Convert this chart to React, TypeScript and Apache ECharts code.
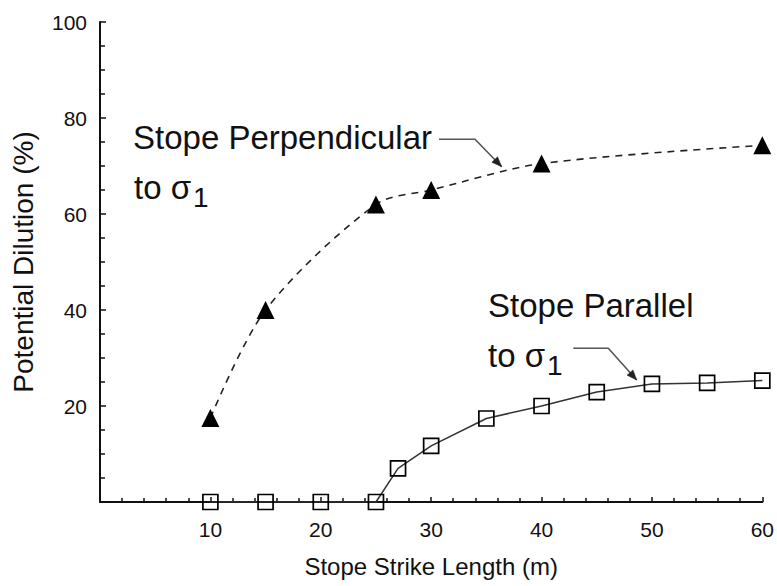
import React, { useEffect, useRef } from "react";
import * as echarts from "echarts";

// Stope oriented perpendicular to sigma 1 (filled triangles, dashed curve)
const perpStrikeLength = [10, 15, 25, 30, 40, 60];
const perpDilution = [17.5, 40, 62, 65, 70.5, 74.3];

// Stope oriented parallel to sigma 1 (open squares, solid line)
const parStrikeLength = [10, 15, 20, 25, 27, 30, 35, 40, 45, 50, 55, 60];
const parDilution = [0, 0, 0, 0, 7, 11.7, 17.4, 20, 22.9, 24.6, 24.8, 25.3];

const xAxisTitle = "Stope Strike Length (m)";
const yAxisTitle = "Potential Dilution (%)";

const SANS = "'Liberation Sans', Arial, Helvetica, sans-serif";
const INK = "#111";

type Pt = [number, number];

// Filled arrow head pointing from `from` to `tip`
function arrowHead(from: Pt, tip: Pt, len = 10, half = 4): Pt[] {
  const dx = tip[0] - from[0];
  const dy = tip[1] - from[1];
  const d = Math.hypot(dx, dy);
  const ux = dx / d;
  const uy = dy / d;
  const bx = tip[0] - ux * len;
  const by = tip[1] - uy * len;
  return [
    tip,
    [bx - uy * half, by + ux * half],
    [bx + uy * half, by - ux * half],
  ];
}

function leader(points: Pt[]) {
  const n = points.length;
  const head = arrowHead(points[n - 2], points[n - 1]);
  return [
    {
      type: "polyline",
      shape: { points },
      style: { stroke: "#555", lineWidth: 1.6, fill: null },
      z: 10,
    },
    {
      type: "polygon",
      shape: { points: head },
      style: { fill: "#222", stroke: "#222", lineWidth: 0.5 },
      z: 10,
    },
  ];
}

function label(text: string, x: number, y: number) {
  return {
    type: "text",
    x,
    y,
    z: 10,
    style: {
      text,
      fontSize: 33,
      fontFamily: SANS,
      fill: INK,
      align: "left",
      verticalAlign: "middle",
    },
  };
}

// "to σ1" with the 1 set as a subscript; y is the centre of "to σ"
function sigmaLabel(x: number, y: number) {
  return {
    type: "text",
    x,
    y: y + 3.75,
    z: 10,
    style: {
      text: "{a|to σ}{s|1}",
      align: "left",
      verticalAlign: "middle",
      rich: {
        a: { fontSize: 33, lineHeight: 33, fontFamily: SANS, fill: INK, verticalAlign: "top" },
        s: {
          fontSize: 28,
          lineHeight: 28,
          fontFamily: SANS,
          fill: INK,
          verticalAlign: "top",
          padding: [12.5, 0, 0, 2],
        },
      },
    },
  };
}

export default function App() {
  const ref = useRef<HTMLDivElement>(null);

  useEffect(() => {
    if (!ref.current) return;
    const chart = echarts.init(ref.current, null, { renderer: "svg" });

    const tickStyle = { color: INK, width: 1.5 };

    chart.setOption({
      animation: false,
      backgroundColor: "#fff",
      grid: { left: 100, right: 14, top: 22, bottom: 84 },
      xAxis: {
        type: "value",
        min: 0,
        max: 60,
        interval: 10,
        name: xAxisTitle,
        nameLocation: "middle",
        nameGap: 52,
        nameTextStyle: { fontFamily: SANS, fontSize: 24, color: INK },
        axisLine: { show: true, onZero: false, lineStyle: { color: INK, width: 2 } },
        axisTick: { show: true, inside: true, length: 5, lineStyle: tickStyle },
        minorTick: { show: true, splitNumber: 5, length: 4, lineStyle: tickStyle },
        axisLabel: {
          showMinLabel: false,
          margin: 17,
          fontFamily: SANS,
          fontSize: 21,
          color: INK,
        },
        splitLine: { show: false },
        minorSplitLine: { show: false },
      },
      yAxis: {
        type: "value",
        min: 0,
        max: 100,
        interval: 20,
        name: yAxisTitle,
        nameLocation: "middle",
        nameGap: 63,
        nameTextStyle: { fontFamily: SANS, fontSize: 28, color: INK },
        axisLine: { show: true, onZero: false, lineStyle: { color: INK, width: 2 } },
        axisTick: { show: true, inside: true, length: 6, lineStyle: tickStyle },
        minorTick: { show: true, splitNumber: 4, length: 5, lineStyle: tickStyle },
        axisLabel: {
          showMinLabel: false,
          margin: 13,
          fontFamily: SANS,
          fontSize: 21,
          color: INK,
        },
        splitLine: { show: false },
        minorSplitLine: { show: false },
      },
      series: [
        {
          name: "Stope Perpendicular to σ1",
          type: "line",
          data: perpStrikeLength.map((x, i) => [x, perpDilution[i]]),
          symbol: "triangle",
          symbolSize: 18,
          smooth: 0.3,
          lineStyle: { color: "#222", width: 1.6, type: [7, 6] },
          itemStyle: { color: "#000" },
          z: 3,
        },
        {
          name: "Stope Parallel to σ1",
          type: "line",
          data: parStrikeLength.map((x, i) => [x, parDilution[i]]),
          symbol: "rect",
          symbolSize: 15,
          lineStyle: { color: "#333", width: 1.5 },
          itemStyle: { color: "rgba(0,0,0,0)", borderColor: "#000", borderWidth: 1.7 },
          z: 3,
        },
      ],
      graphic: [
        label("Stope Perpendicular", 133, 137),
        sigmaLabel(134, 183.6),
        label("Stope Parallel", 488, 305.3),
        sigmaLabel(488, 352),
        ...leader([
          [439, 139.3],
          [475, 139.3],
          [501.7, 166.7],
        ]),
        ...leader([
          [573.3, 348.3],
          [608.3, 348.3],
          [636.7, 380],
        ]),
      ],
    });

    return () => chart.dispose();
  }, []);

  return (
    <div
      ref={ref}
      style={{ position: "fixed", left: 0, top: 0, width: 777, height: 586, background: "#fff" }}
    />
  );
}
